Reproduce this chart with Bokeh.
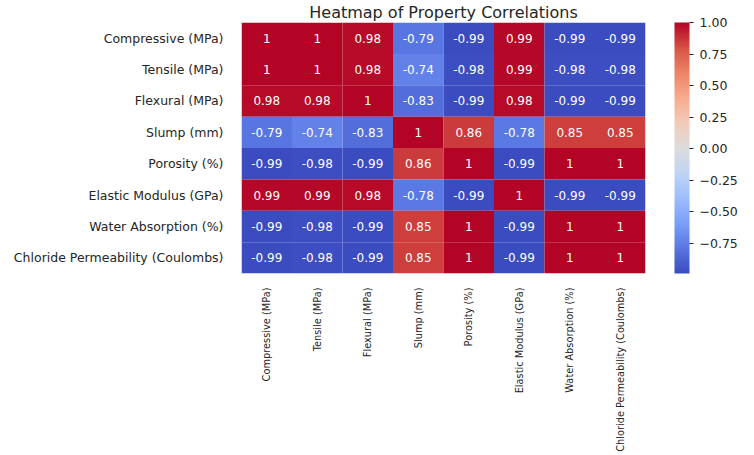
import math
import numpy as np
from bokeh.plotting import figure
from bokeh.models import (ColumnDataSource, LinearColorMapper, ColorBar, FixedTicker,
                          CustomJSTickFormatter)
from bokeh.core.properties import value
from bokeh.embed import file_html
from bokeh.resources import INLINE

labels = ["Compressive (MPa)", "Tensile (MPa)", "Flexural (MPa)", "Slump (mm)",
          "Porosity (%)", "Elastic Modulus (GPa)", "Water Absorption (%)",
          "Chloride Permeability (Coulombs)"]

row_compressive = [1, 1, 0.98, -0.79, -0.99, 0.99, -0.99, -0.99]
row_tensile = [1, 1, 0.98, -0.74, -0.98, 0.99, -0.98, -0.98]
row_flexural = [0.98, 0.98, 1, -0.83, -0.99, 0.98, -0.99, -0.99]
row_slump = [-0.79, -0.74, -0.83, 1, 0.86, -0.78, 0.85, 0.85]
row_porosity = [-0.99, -0.98, -0.99, 0.86, 1, -0.99, 1, 1]
row_elastic = [0.99, 0.99, 0.98, -0.78, -0.99, 1, -0.99, -0.99]
row_water = [-0.99, -0.98, -0.99, 0.85, 1, -0.99, 1, 1]
row_chloride = [-0.99, -0.98, -0.99, 0.85, 1, -0.99, 1, 1]
rows = [row_compressive, row_tensile, row_flexural, row_slump,
        row_porosity, row_elastic, row_water, row_chloride]

cbar_ticks = [-0.75, -0.5, -0.25, 0.0, 0.25, 0.5, 0.75, 1.0]

# coolwarm palette
anchors = ["#3b4cc0", "#5977e3", "#7b9ff9", "#9ebeff", "#c0d4f5", "#dddcdc",
           "#f2cbb7", "#f7ac8e", "#ee8468", "#d65244", "#b40426"]
def h2rgb(h):
    return np.array([int(h[i:i + 2], 16) for i in (1, 3, 5)], dtype=float)
arr = np.array([h2rgb(a) for a in anchors])
pos = np.linspace(0, 1, len(anchors))
t = np.linspace(0, 1, 256)
pal = []
for tt in t:
    c = [np.interp(tt, pos, arr[:, k]) for k in range(3)]
    pal.append("#%02x%02x%02x" % tuple(int(round(v)) for v in c))

xs, ys, vals, txt = [], [], [], []
for i, r in enumerate(rows):
    for j, v in enumerate(r):
        xs.append(labels[j]); ys.append(labels[i]); vals.append(v)
        txt.append("%g" % v)
src = ColumnDataSource(dict(x=xs, y=ys, v=vals, t=txt))

mapper = LinearColorMapper(palette=pal, low=min(vals), high=max(vals))

p = figure(x_range=labels, y_range=list(reversed(labels)),
           frame_width=404, frame_height=251,
           min_border_left=241, min_border_right=10, min_border_top=0,
           min_border_bottom=172,
           output_backend="svg", toolbar_location=None, tools="")
p.rect(x="x", y="y", width=1, height=1, source=src,
       fill_color={"field": "v", "transform": mapper}, line_color=None)
p.text(x="x", y="y", text="t", source=src, text_color="white",
       text_align="center", text_baseline="middle",
       text_font=value("DejaVu Sans"), text_font_size="12px")

p.title.text = "Heatmap of Property Correlations"
p.title.align = "center"
p.title.text_font = "DejaVu Sans"
p.title.text_font_style = "normal"
p.title.text_font_size = "16px"
p.title.text_color = "#262626"
p.title.standoff = 1

p.outline_line_color = None
p.xgrid.grid_line_color = None
p.ygrid.grid_line_color = None
for ax in (p.xaxis, p.yaxis):
    ax.axis_line_color = None
    ax.major_tick_line_color = None
    ax.minor_tick_line_color = None
    ax.major_label_text_font = "DejaVu Sans"
    ax.major_label_text_color = "#262626"
p.yaxis.major_label_text_font_size = "12.5px"
p.xaxis.major_label_text_font_size = "9.8px"
p.yaxis.major_label_standoff = 12
p.xaxis.major_label_standoff = 8
p.xaxis.major_label_orientation = math.pi / 2

cb = ColorBar(color_mapper=mapper, width=15, height=251, padding=0, margin=0,
              location=(29, 0),
              ticker=FixedTicker(ticks=cbar_ticks),
              formatter=CustomJSTickFormatter(code="return (tick < 0 ? '\u2212' : '') + Math.abs(tick).toFixed(2);"),
              major_label_text_font="DejaVu Sans", major_label_text_font_size="12.5px",
              major_label_text_color="#262626",
              major_tick_out=4, major_tick_in=0, major_tick_line_color="#262626",
              minor_tick_line_color=None, bar_line_color=None, border_line_color=None,
              background_fill_color=None, label_standoff=6)
p.add_layout(cb, "right")

open("out.html", "w").write(file_html(p, INLINE))
